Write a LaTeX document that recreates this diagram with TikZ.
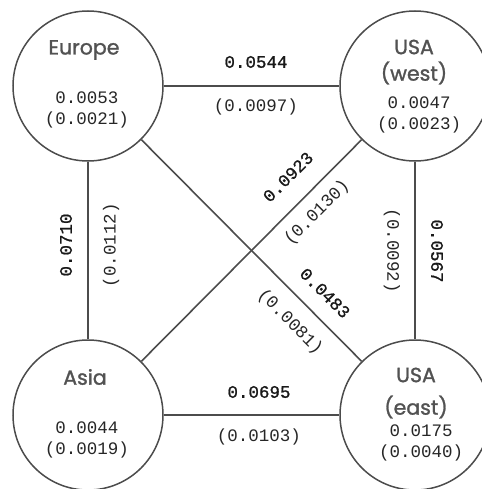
\documentclass[tikz,border=0pt]{standalone}
\usepackage{fontspec}
\newfontfamily\titlefont[FakeBold=1.3]{Poppins}
\newfontfamily\numfont{Liberation Mono}
\newfontfamily\boldnumfont[FakeBold=1]{Liberation Mono}

\begin{document}
\begin{tikzpicture}
[every node/.style={inner sep=0pt},
 region/.style={circle, minimum size=150pt, line width=1.5pt, draw=black!70},
 link/.style={line width=1.6pt, color=black!70},
 title/.style={font=\titlefont\fontsize{20.5}{20.5}\selectfont, text=black!68},
 stat/.style={font=\numfont\fontsize{17.5}{17.5}\selectfont, text=black!85},
 weight/.style={font=\boldnumfont\fontsize{17.5}{17.5}\selectfont, text=black!90}]
\useasboundingbox (0pt,0pt) rectangle (481pt,-489pt);
% regions
\node (europe) [region] at (88pt, -86pt) {};
\node (west) [region] at (415pt, -86pt) {};
\node (asia) [region] at (88pt, -415pt) {};
\node (east) [region] at (415pt, -415pt) {};
\node (europe-name) [title] at (84pt, -50pt) {Europe};
\node (europe-mean) [stat] at (87pt, -98pt) {0.0053};
\node (europe-sd) [stat] at (87pt, -120pt) {(0.0021)};
\node (west-name1) [title] at (414pt, -47pt) {USA};
\node (west-name2) [title] at (414pt, -73pt) {(west)};
\node (west-mean) [stat] at (419pt, -103pt) {0.0047};
\node (west-sd) [stat] at (419pt, -125pt) {(0.0023)};
\node (asia-name) [title] at (85pt, -377pt) {Asia};
\node (asia-mean) [stat] at (87pt, -428pt) {0.0044};
\node (asia-sd) [stat] at (87pt, -450pt) {(0.0019)};
\node (east-name1) [title] at (416pt, -375pt) {USA};
\node (east-name2) [title] at (416pt, -407pt) {(east)};
\node (east-mean) [stat] at (421pt, -431pt) {0.0175};
\node (east-sd) [stat] at (421pt, -453pt) {(0.0040)};
% links
\draw [link] (europe) to (west);
\draw [link] (europe) to (asia);
\draw [link] (europe) to (east);
\draw [link] (asia) to (west);
\draw [link] (asia) to (east);
\draw [link] (west) to (east);
% link values
\node (ew-w) [weight] at (256pt, -62pt) {0.0544};
\node (ew-sd) [stat] at (256pt, -107pt) {(0.0097)};
\node (ea-w) [weight, rotate=90] at (66pt, -245pt) {0.0710};
\node (ea-sd) [stat, rotate=90] at (111pt, -245pt) {(0.0112)};
\node (we-sd) [stat, rotate=-90] at (392pt, -251pt) {(0.0092)};
\node (we-w) [weight, rotate=-90] at (437pt, -251pt) {0.0567};
\node (ae-w) [weight] at (259pt, -392pt) {0.0695};
\node (ae-sd) [stat] at (259pt, -437pt) {(0.0103)};
\node (aw-w) [weight, rotate=45] at (288pt, -177pt) {0.0923};
\node (aw-sd) [stat, rotate=45] at (317pt, -213pt) {(0.0130)};
\node (ee-w) [weight, rotate=-45] at (325pt, -293pt) {0.0483};
\node (ee-sd) [stat, rotate=-45] at (290pt, -322pt) {(0.0081)};
\end{tikzpicture}
\end{document}
